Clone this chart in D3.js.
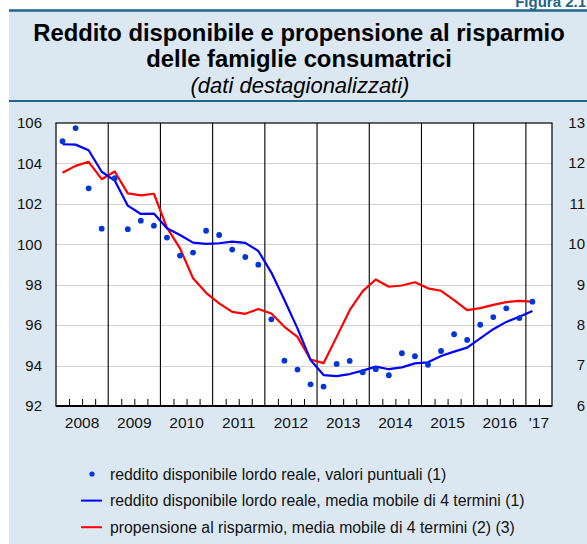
<!DOCTYPE html>
<html>
<head>
<meta charset="utf-8">
<script src="https://cdn.jsdelivr.net/npm/d3@7"></script>
<style>
  body { margin: 0; background: #fff; }
  svg { display: block; font-family: "Liberation Sans", Arial, Helvetica, sans-serif; }
</style>
</head>
<body>
<div id="chart"></div>
<script>
// quarters 2008Q1 .. 2017Q2 (last one empty, the axis runs to mid 2017)
const years = [2008, 2009, 2010, 2011, 2012, 2013, 2014, 2015, 2016, 2017];
const yearLabels = ['2008', '2009', '2010', '2011', '2012', '2013', '2014', '2015', '2016', "'17"];
const quarterCount = 38;

// reddito disponibile lordo reale, valori puntuali (left axis)
const redditoPuntuale = [
  105.1, 105.75, 102.77, 100.77,
  103.27, 100.75, 101.17, 100.92,
  100.33, 99.44, 99.59, 100.67,
  100.46, 99.74, 99.37, 98.99,
  96.29, 94.24, 93.8, 93.07,
  92.96, 94.08, 94.23, 93.67,
  93.82, 93.52, 94.61, 94.46,
  94.04, 94.72, 95.55, 95.27,
  96.02, 96.4, 96.83, 96.35,
  97.16
];

// reddito disponibile lordo reale, media mobile di 4 termini (left axis)
const redditoMedia = [
  104.95, 104.93, 104.65, 103.59,
  103.15, 101.91, 101.5, 101.52,
  100.79, 100.46, 100.08, 100.02,
  100.05, 100.13, 100.07, 99.67,
  98.6, 97.24, 95.84, 94.28,
  93.53, 93.48, 93.58, 93.75,
  93.95, 93.82, 93.91, 94.11,
  94.16, 94.47, 94.69, 94.89,
  95.35, 95.8, 96.16, 96.42,
  96.7
];

// propensione al risparmio, media mobile di 4 termini (right axis)
const propensione = [
  11.77, 11.94, 12.04, 11.61,
  11.8, 11.26, 11.21, 11.25,
  10.41, 9.9, 9.16, 8.8,
  8.54, 8.33, 8.28, 8.4,
  8.29, 7.96, 7.71, 7.15,
  7.06, 7.71, 8.37, 8.84,
  9.13, 8.95, 8.98, 9.06,
  8.91, 8.85, 8.62, 8.37,
  8.42, 8.5, 8.57, 8.6,
  8.58
];

const leftTicks = [92, 94, 96, 98, 100, 102, 104, 106];
const rightTicks = [6, 7, 8, 9, 10, 11, 12, 13];

const legendItems = [
  { type: 'dot', color: '#0336d9', text: 'reddito disponibile lordo reale, valori puntuali (1)' },
  { type: 'line', color: '#0000ff', text: 'reddito disponibile lordo reale, media mobile di 4 termini (1)' },
  { type: 'line', color: '#ff0000', text: 'propensione al risparmio, media mobile di 4 termini (2) (3)' }
];

const W = 587, H = 544;
const plot = { left: 56, right: 552, top: 123, bottom: 406 };
const teal = '#236586';
const panel = '#dce8f1';

const svg = d3.select('#chart').append('svg')
  .attr('width', W)
  .attr('height', H);

// header panel
svg.append('rect').attr('x', 9).attr('y', 10).attr('width', W - 9).attr('height', H - 10).attr('fill', panel);
svg.append('line').attr('x1', 9).attr('x2', W).attr('y1', 10.5).attr('y2', 10.5)
  .attr('stroke', teal).attr('stroke-width', 2.5);
svg.append('line').attr('x1', 9).attr('x2', W).attr('y1', 101).attr('y2', 101)
  .attr('stroke', teal).attr('stroke-width', 2);
svg.append('text').attr('x', 586).attr('y', 7)
  .attr('text-anchor', 'end')
  .attr('fill', teal).style('font-weight', 'bold').style('font-size', '15px')
  .text('Figura 2.1');

const titleLines = ['Reddito disponibile e propensione al risparmio', 'delle famiglie consumatrici'];
svg.selectAll('.title')
  .data(titleLines)
  .enter()
  .append('text')
  .attr('class', 'title')
  .attr('x', 299)
  .attr('y', (d, i) => 41 + i * 26)
  .attr('text-anchor', 'middle')
  .style('font-weight', 'bold')
  .style('font-size', '23.8px')
  .text(d => d);

svg.append('text')
  .attr('x', 300).attr('y', 93)
  .attr('text-anchor', 'middle')
  .style('font-style', 'italic')
  .style('font-size', '22px')
  .text('(dati destagionalizzati)');

// scales
const x = d3.scaleLinear().domain([0, quarterCount]).range([plot.left, plot.right]);
const yLeft = d3.scaleLinear().domain([92, 106]).range([plot.bottom, plot.top]);
const yRight = d3.scaleLinear().domain([6, 13]).range([plot.bottom, plot.top]);
const mid = i => x(i + 0.5);

svg.append('rect')
  .attr('x', plot.left).attr('y', plot.top)
  .attr('width', plot.right - plot.left).attr('height', plot.bottom - plot.top)
  .attr('fill', '#fff');

// horizontal grid
svg.append('g')
  .selectAll('line')
  .data(leftTicks.slice(1, -1))
  .enter()
  .append('line')
  .attr('x1', plot.left).attr('x2', plot.right)
  .attr('y1', d => Math.round(yLeft(d)) + 0.5).attr('y2', d => Math.round(yLeft(d)) + 0.5)
  .attr('stroke', '#d2d2d2').attr('stroke-width', 1);

// year separators
svg.append('g')
  .selectAll('line')
  .data(years.slice(1))
  .enter()
  .append('line')
  .attr('x1', (d, i) => x((i + 1) * 4)).attr('x2', (d, i) => x((i + 1) * 4))
  .attr('y1', plot.top).attr('y2', plot.bottom)
  .attr('stroke', '#000').attr('stroke-width', 1.1);

// quarter ticks on the bottom axis
const xAxis = d3.axisBottom(x)
  .tickValues(d3.range(1, quarterCount).filter(q => q % 4 !== 0))
  .tickSize(-7)
  .tickFormat('');
svg.append('g')
  .attr('transform', `translate(0,${plot.bottom})`)
  .call(xAxis)
  .call(g => g.select('.domain').remove())
  .selectAll('line').attr('stroke', '#000');

// frame
svg.append('rect')
  .attr('x', plot.left).attr('y', plot.top)
  .attr('width', plot.right - plot.left).attr('height', plot.bottom - plot.top)
  .attr('fill', 'none').attr('stroke', '#000').attr('stroke-width', 1.2);
svg.append('line')
  .attr('x1', plot.left).attr('x2', plot.right)
  .attr('y1', plot.bottom).attr('y2', plot.bottom)
  .attr('stroke', '#000').attr('stroke-width', 2);

// year labels
svg.append('g')
  .selectAll('text')
  .data(yearLabels)
  .enter()
  .append('text')
  .attr('x', (d, i) => i < 9 ? x(i * 4 + 2) : x(37))
  .attr('y', 428)
  .attr('text-anchor', 'middle')
  .style('font-size', '15.5px')
  .attr('fill', '#111')
  .text(d => d);

// left and right axes (labels only)
const leftAxis = d3.axisLeft(yLeft).tickValues(leftTicks).tickSize(0).tickPadding(0);
svg.append('g')
  .attr('transform', 'translate(42,0)')
  .call(leftAxis)
  .call(g => g.select('.domain').remove())
  .selectAll('text')
  .style('font-size', '15px')
  .style('font-family', '"Liberation Sans", Arial, sans-serif')
  .attr('fill', '#111');

svg.append('g')
  .selectAll('text')
  .data(rightTicks)
  .enter()
  .append('text')
  .attr('x', 585)
  .attr('y', d => yRight(d))
  .attr('dy', '0.32em')
  .attr('text-anchor', 'end')
  .style('font-size', '15px')
  .attr('fill', '#111')
  .text(d => d);

// series
const lineLeft = d3.line().x((d, i) => mid(i)).y(d => yLeft(d));
const lineRight = d3.line().x((d, i) => mid(i)).y(d => yRight(d));

svg.append('path')
  .datum(propensione)
  .attr('d', lineRight)
  .attr('fill', 'none').attr('stroke', '#ff0000').attr('stroke-width', 2.2)
  .attr('stroke-linejoin', 'round');

svg.append('path')
  .datum(redditoMedia)
  .attr('d', lineLeft)
  .attr('fill', 'none').attr('stroke', '#0000ff').attr('stroke-width', 2.2)
  .attr('stroke-linejoin', 'round');

svg.append('g')
  .selectAll('circle')
  .data(redditoPuntuale)
  .enter()
  .append('circle')
  .attr('cx', (d, i) => mid(i))
  .attr('cy', d => yLeft(d))
  .attr('r', 2.9)
  .attr('fill', '#0336d9');

// legend
const legend = svg.append('g')
  .selectAll('g')
  .data(legendItems)
  .enter()
  .append('g')
  .attr('transform', (d, i) => `translate(0,${474 + i * 26.6})`);

legend.filter(d => d.type === 'dot')
  .append('circle')
  .attr('cx', 92).attr('cy', 0).attr('r', 2.6)
  .attr('fill', d => d.color);

legend.filter(d => d.type === 'line')
  .append('line')
  .attr('x1', 81).attr('x2', 102).attr('y1', 0).attr('y2', 0)
  .attr('stroke', d => d.color).attr('stroke-width', 2);

legend.append('text')
  .attr('x', 110)
  .attr('y', 0)
  .attr('dy', '0.35em')
  .style('font-size', '15.8px')
  .attr('fill', '#111')
  .text(d => d.text);
</script>
</body>
</html>
